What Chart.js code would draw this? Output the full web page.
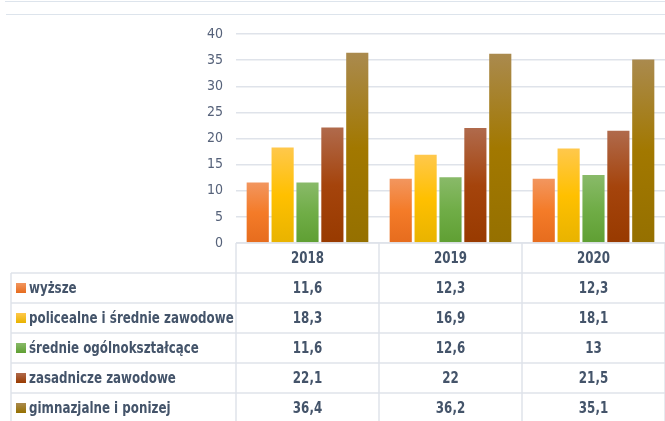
<!DOCTYPE html>
<html>
<head>
<meta charset="utf-8">
<script src="https://cdn.jsdelivr.net/npm/chart.js@4"></script>
<style>
  html, body { margin: 0; padding: 0; background: #fff; }
  #wrap { position: relative; width: 665px; height: 421px; }
  .topline { position: absolute; height: 1px; background: #dde4ec; right: 0; }
</style>
</head>
<body>
<div id="wrap">
  <div class="topline" style="top:1px; left:5px;"></div>
  <div class="topline" style="top:14px; left:6px;"></div>
  <canvas id="chart" width="665" height="421"></canvas>
</div>
<script>
const years = ['2018', '2019', '2020'];
const seriesNames = [
  'wyższe',
  'policealne i średnie zawodowe',
  'średnie ogólnokształcące',
  'zasadnicze zawodowe',
  'gimnazjalne i ponizej'
];
const wyzsze = [11.6, 12.3, 12.3];
const policealne = [18.3, 16.9, 18.1];
const srednieOgolne = [11.6, 12.6, 13];
const zasadnicze = [22.1, 22, 21.5];
const gimnazjalne = [36.4, 36.2, 35.1];
const yTicks = [0, 5, 10, 15, 20, 25, 30, 35, 40];

// top, middle, bottom of each bar's gradient
const shades = [
  ['#f2965f', '#f47b28', '#e66c1e'],
  ['#ffc84c', '#ffc000', '#e8b300'],
  ['#89ba69', '#70ad47', '#5f9f33'],
  ['#b06a4c', '#a5440c', '#983a00'],
  ['#aa8a4e', '#a27800', '#957000']
];

const font = "'DejaVu Sans Condensed', 'Liberation Sans', sans-serif";
const textColor = '#44546a';
const lineColor = '#dfe3ea';
const squeeze = 0.88; // condensed look of the original Calibri text

function barFill(i) {
  return (c) => {
    const chart = c.chart;
    if (!chart.chartArea || c.raw === undefined) return shades[i][1];
    const y = chart.scales.y;
    const top = y.getPixelForValue(c.raw);
    const bottom = y.getPixelForValue(0);
    const g = chart.ctx.createLinearGradient(0, top, 0, bottom);
    g.addColorStop(0, shades[i][0]);
    g.addColorStop(0.5, shades[i][1]);
    g.addColorStop(1, shades[i][2]);
    return g;
  };
}

function squeezedText(ctx, text, x, y) {
  ctx.save();
  ctx.translate(x, y);
  ctx.scale(squeeze, 1);
  ctx.fillText(text, 0, 0);
  ctx.restore();
}

const values = [wyzsze, policealne, srednieOgolne, zasadnicze, gimnazjalne];

const dataTable = {
  id: 'dataTable',
  afterDraw(chart) {
    const { ctx, chartArea } = chart;
    const x = chart.scales.x;
    const colW = chartArea.width / years.length;
    const top = chartArea.bottom;
    const headH = 30;
    const rowH = 30;
    const left = 11;
    ctx.save();
    ctx.strokeStyle = lineColor;
    ctx.lineWidth = 1.5;
    ctx.beginPath();
    ctx.moveTo(chartArea.left, top);
    ctx.lineTo(chartArea.right, top);
    for (let r = 0; r <= seriesNames.length; r++) {
      const yy = top + headH + r * rowH;
      ctx.moveTo(left, yy);
      ctx.lineTo(chartArea.right, yy);
    }
    ctx.moveTo(left, top + headH);
    ctx.lineTo(left, chart.height);
    for (let c = 0; c <= years.length; c++) {
      const xx = chartArea.left + c * colW;
      ctx.moveTo(xx, top);
      ctx.lineTo(xx, chart.height);
    }
    ctx.stroke();

    ctx.fillStyle = textColor;
    ctx.font = 'bold 15px ' + font;
    ctx.textBaseline = 'middle';
    ctx.textAlign = 'center';
    years.forEach((yr, c) => {
      const cx = x.getPixelForValue(c);
      squeezedText(ctx, yr, cx, top + headH / 2 + 1);
      values.forEach((vals, r) => {
        squeezedText(ctx, String(vals[c]).replace('.', ','), cx, top + headH + r * rowH + rowH / 2 + 1);
      });
    });
    ctx.textAlign = 'left';
    seriesNames.forEach((name, r) => {
      const cy = top + headH + r * rowH + rowH / 2;
      const g = ctx.createLinearGradient(0, cy - 5, 0, cy + 5);
      g.addColorStop(0, shades[r][0]);
      g.addColorStop(1, shades[r][2]);
      ctx.fillStyle = g;
      ctx.fillRect(16, cy - 5, 10, 10);
      ctx.fillStyle = textColor;
      squeezedText(ctx, name, 29, cy + 1);
    });
    ctx.restore();
  }
};

new Chart(document.getElementById('chart'), {
  type: 'bar',
  data: {
    labels: years,
    datasets: seriesNames.map((name, i) => ({
      label: name,
      data: values[i],
      backgroundColor: barFill(i),
      borderWidth: 0,
      categoryPercentage: 0.87,
      barPercentage: 0.89
    }))
  },
  options: {
    responsive: false,
    animation: false,
    layout: { padding: { top: 34, bottom: 178, left: 0, right: 0 } },
    plugins: {
      legend: { display: false },
      tooltip: { enabled: false }
    },
    scales: {
      x: { display: false },
      y: {
        min: 0,
        max: 40,
        afterFit(scale) { scale.width = 236; },
        afterBuildTicks(scale) { scale.ticks = yTicks.map(v => ({ value: v })); },
        border: { display: false },
        grid: { color: lineColor, lineWidth: 1.5, drawTicks: false },
        ticks: {
          padding: 13,
          color: '#56627a',
          font: { family: font, size: 14 }
        }
      }
    }
  },
  plugins: [dataTable]
});
</script>
</body>
</html>
